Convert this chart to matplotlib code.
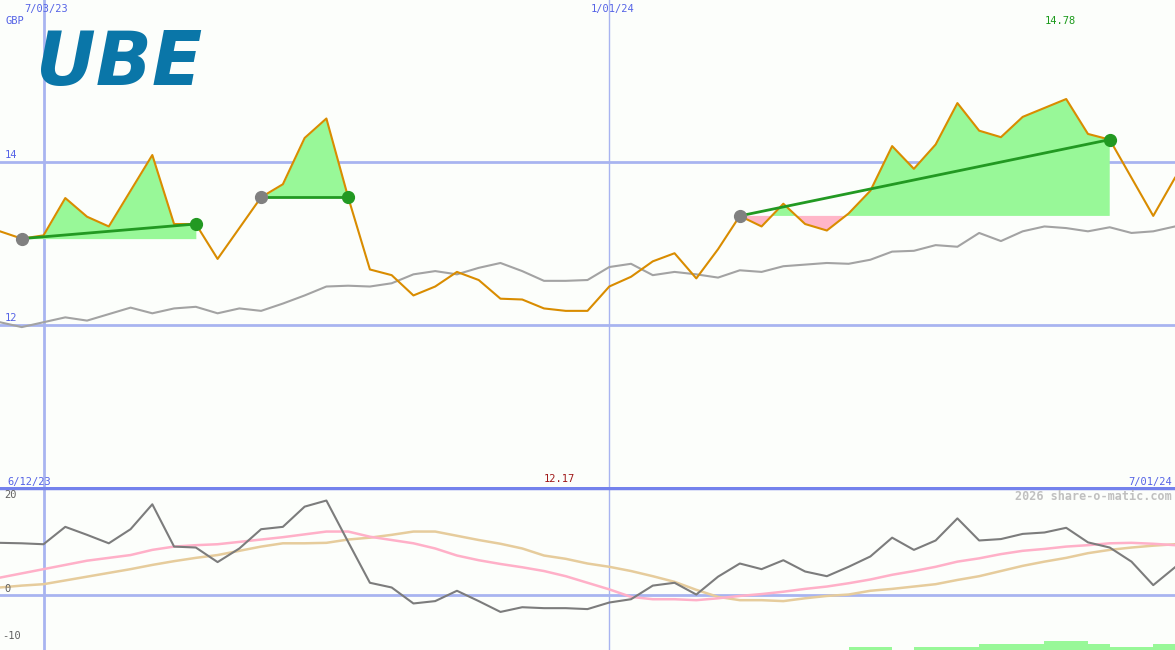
import numpy as np
import matplotlib
matplotlib.use('Agg')
import matplotlib.pyplot as plt

# price (orange) and index-relative benchmark (grey), one value per step
price = [13.15, 13.06, 13.10, 13.56, 13.33, 13.21, 13.65, 14.09, 13.24, 13.24,
         12.81, 13.19, 13.57, 13.73, 14.30, 14.54, 13.57, 12.68, 12.61, 12.36,
         12.47, 12.65, 12.55, 12.32, 12.31, 12.20, 12.17, 12.17, 12.47, 12.59,
         12.78, 12.88, 12.57, 12.93, 13.34, 13.21, 13.49, 13.24, 13.16, 13.37,
         13.65, 14.20, 13.92, 14.22, 14.73, 14.39, 14.31, 14.56, 14.67, 14.78,
         14.35, 14.28, 13.81, 13.34, 13.81]
bench = [12.03, 11.97, 12.03, 12.09, 12.05, 12.13, 12.21, 12.14, 12.20, 12.22,
         12.14, 12.20, 12.17, 12.26, 12.36, 12.47, 12.48, 12.47, 12.51, 12.62,
         12.66, 12.62, 12.70, 12.76, 12.66, 12.54, 12.54, 12.55, 12.71, 12.75,
         12.61, 12.65, 12.62, 12.58, 12.67, 12.65, 12.72, 12.74, 12.76, 12.75,
         12.80, 12.90, 12.91, 12.98, 12.96, 13.13, 13.03, 13.15, 13.21, 13.19,
         13.15, 13.20, 13.13, 13.15, 13.21]

# lower panel: momentum (dark grey) and two smoothed lines
mom = [11.1, 11.0, 10.8, 14.5, 12.8, 11.0, 14.0, 19.3, 10.3, 10.1,
       7.0, 9.9, 14.0, 14.5, 18.8, 20.1, 11.3, 2.6, 1.6, -1.8,
       -1.3, 0.9, -1.3, -3.6, -2.6, -2.8, -2.8, -3.0, -1.6, -0.9,
       2.0, 2.6, 0.1, 3.9, 6.7, 5.5, 7.4, 5.0, 4.0, 6.0,
       8.2, 12.2, 9.6, 11.6, 16.3, 11.6, 11.9, 13.0, 13.3, 14.3,
       11.2, 10.1, 7.1, 2.1, 5.9]
pink_ma = [3.7, 4.6, 5.5, 6.4, 7.3, 7.9, 8.5, 9.6, 10.3, 10.6,
           10.8, 11.3, 11.8, 12.3, 12.9, 13.5, 13.5, 12.4, 11.7, 11.0,
           9.9, 8.4, 7.4, 6.6, 5.9, 5.1, 4.0, 2.6, 1.2, -0.4,
           -0.9, -0.9, -1.1, -0.7, -0.2, 0.2, 0.7, 1.3, 1.8, 2.5,
           3.3, 4.3, 5.1, 6.0, 7.1, 7.8, 8.7, 9.4, 9.8, 10.3,
           10.6, 11.0, 11.1, 10.9, 10.6]
tan_ma = [1.6, 2.0, 2.3, 3.1, 3.9, 4.7, 5.5, 6.4, 7.2, 7.9,
          8.5, 9.4, 10.3, 11.0, 11.0, 11.1, 11.8, 12.2, 12.8, 13.5,
          13.5, 12.6, 11.7, 10.9, 9.9, 8.4, 7.7, 6.7, 6.0, 5.1,
          4.0, 2.8, 1.1, -0.4, -1.1, -1.1, -1.3, -0.7, -0.2, 0.1,
          0.9, 1.3, 1.8, 2.3, 3.2, 4.0, 5.1, 6.2, 7.1, 7.9,
          8.9, 9.6, 10.1, 10.5, 10.8]
# signal strip at bottom, one level per interval
signal = [0] * 39 + [1, 1, 0, 1, 1, 1, 2, 2, 2, 3, 3, 2, 1, 1, 2]

# trades: (entry index, exit index)
trades = [(1, 9), (12, 16), (34, 51)]

date_idx = [2, 28]
date_lbl = ['7/03/23', '1/01/24']
top_ticks = [12, 14]
low_ticks = [20, 0, -10]

x = np.arange(len(price))
price = np.array(price)

BG = '#fcfefb'
GRID = '#a8b4f0'
BLUE_TXT = '#5563e6'
MONO = 'DejaVu Sans Mono'
FS = 7.5

fig = plt.figure(figsize=(11.75, 6.5), dpi=100, facecolor=BG)
ax = fig.add_axes([0, 163 / 650, 1, 487 / 650])
ax2 = fig.add_axes([0, 0, 1, 163 / 650])
for a in (ax, ax2):
    a.set_facecolor(BG)
    a.set_xlim(0, len(price) - 1)
    a.axis('off')
    for d, lw in zip(date_idx, [2, 1]):
        a.axvline(d, color=GRID, lw=lw, zorder=1)

ax.set_ylim(10, 16)
for t in top_ticks:
    ax.axhline(t, color=GRID, lw=2, zorder=1)
    ax.annotate(str(t), xy=(0, t), xytext=(5, 2), textcoords='offset pixels',
                color=BLUE_TXT, fontsize=FS, family=MONO, va='bottom')

ax.plot(x, bench, color='#a3a3a3', lw=1.5, zorder=3)

for i0, i1 in trades:
    xs = x[i0:i1 + 1]
    ys = price[i0:i1 + 1]
    base = price[i0]
    ax.fill_between(xs, base, ys, where=ys >= base, interpolate=True,
                    color='#98f898', lw=0, zorder=2)
    ax.fill_between(xs, base, ys, where=ys <= base, interpolate=True,
                    color='#ffb6c8', lw=0, zorder=2)

ax.plot(x, price, color='#d98c00', lw=1.5, zorder=4)

for i0, i1 in trades:
    ax.plot([i0, i1], [price[i0], price[i1]], color='#229922', lw=2, zorder=5)
    ax.plot(i0, price[i0], 'o', color='#808080', ms=8.5, zorder=6)
    ax.plot(i1, price[i1], 'o', color='#229922', ms=8.5, zorder=6)

for d, lbl in zip(date_idx, date_lbl):
    ax.annotate(lbl, xy=(d, 1), xycoords=('data', 'axes fraction'), xytext=(3, -9),
                textcoords='offset pixels', ha='center', va='center', color=BLUE_TXT,
                fontsize=FS, family=MONO)
fig.text(5 / 1175, 1 - 21 / 650, 'GBP', color=BLUE_TXT, fontsize=FS,
         family=MONO, va='center', ha='left')

imax = int(np.argmax(price))
imin = int(np.argmin(price))
ax.annotate('%.2f' % price[imax], xy=(imax, 1), xycoords=('data', 'axes fraction'),
            xytext=(-6, -21), textcoords='offset pixels', ha='center', va='center',
            color='#1a9a1a', fontsize=FS, family=MONO)

# logo
fig.text(36 / 1175, 1 - 65 / 650, 'UBE', color='#0a76a8', fontsize=53,
         fontweight='bold', style='italic', va='center', ha='left', family='DejaVu Sans')

# lower panel
y_lo = -55 / 4.7
y_hi = 108 / 4.7
ax2.set_ylim(y_lo, y_hi)
ax2.axhline(0, color=GRID, lw=2, zorder=1)
ax2.axhline(y_hi - 0.2, color='#7482ec', lw=2.5, zorder=2)
ax2.bar(x[:-1], np.array(signal) * 0.64, bottom=y_lo, width=1, align='edge',
        color='#98f898', lw=0, zorder=2)
ax2.plot(x, tan_ma, color='#e6cc9c', lw=1.8, zorder=3)
ax2.plot(x, pink_ma, color='#ffb0c8', lw=1.8, zorder=3)
ax2.plot(x, mom, color='#7c7c7c', lw=1.5, zorder=4)

for t in low_ticks:
    ax2.annotate(str(t), xy=(0, t), xytext=(4 if t >= 0 else 2, 6), textcoords='offset pixels',
                 color='#606060', fontsize=FS, family=MONO, va='center')

ax2.annotate('%.2f' % price[imin], xy=(imin, 1), xycoords=('data', 'axes fraction'),
             xytext=(-6, 8), textcoords='offset pixels', ha='center', va='center',
             color='#a01818', fontsize=FS, family=MONO)
ax2.text(7 / 1175, 1, '6/12/23', transform=ax2.transAxes, color=BLUE_TXT, fontsize=FS,
         family=MONO, va='bottom', ha='left')
ax2.text(1 - 3 / 1175, 1, '7/01/24', transform=ax2.transAxes, color=BLUE_TXT, fontsize=FS,
         family=MONO, va='bottom', ha='right')
ax2.text(1 - 3 / 1175, 1 - 9 / 163, '2026 share-o-matic.com', transform=ax2.transAxes,
         color='#c0c0c0', fontsize=8.5, fontweight='bold', family=MONO,
         va='center', ha='right')

fig.savefig('out.png', dpi=100, facecolor=BG)
